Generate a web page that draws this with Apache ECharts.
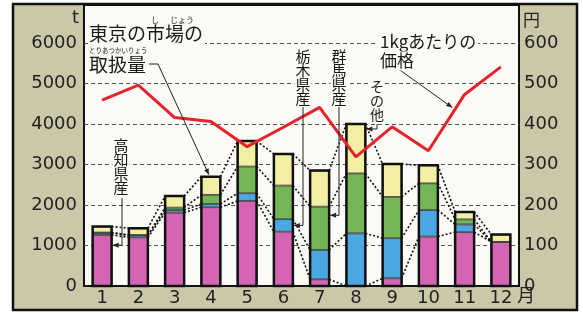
<!DOCTYPE html>
<html>
<head>
<meta charset="utf-8">
<script src="https://cdn.jsdelivr.net/npm/echarts@6/dist/echarts.min.js"></script>
<style>
html, body { margin: 0; padding: 0; background: #fff; }
#main { width: 583px; height: 314px; }
</style>
</head>
<body>
<div id="main"></div>
<script>
var months = ['1', '2', '3', '4', '5', '6', '7', '8', '9', '10', '11', '12'];
// 東京の市場の取扱量 (t)
var kochi = [1260, 1200, 1810, 1945, 2100, 1340, 165, 0, 190, 1220, 1330, 1090];
var tochigi = [50, 50, 65, 80, 190, 310, 725, 1300, 990, 655, 190, 0];
var gunma = [10, 10, 60, 225, 660, 830, 1070, 1480, 1020, 660, 125, 0];
var other = [150, 165, 285, 450, 630, 780, 890, 1220, 810, 445, 185, 180];
// 1kgあたりの価格 (円)
var price = [459, 496, 416, 406, 344, 392, 441, 319, 393, 334, 473, 541];
var leftTicks = [0, 1000, 2000, 3000, 4000, 5000, 6000];
var rightTicks = [0, 100, 200, 300, 400, 500, 600];

var plotBg = '#fbfaf6';
var jp = '"Noto Sans CJK JP", sans-serif';
var num = '"DejaVu Sans", sans-serif';
var barW = 19;

// cumulative boundaries for each month
var cum = months.map(function (m, i) {
    var a = kochi[i], b = a + tochigi[i], c = b + gunma[i], d = c + other[i];
    return [a, b, c, d];
});

var chart = echarts.init(document.getElementById('main'));

var seg = function (name, data, color) {
    return {
        name: name, type: 'bar', stack: 'a', data: data, barWidth: barW,
        itemStyle: { color: color, borderColor: '#333', borderWidth: 0.8 },
        z: 3
    };
};

chart.setOption({
    animation: false,
    backgroundColor: '#ffffff',
    grid: { left: 84, right: 64, top: 43, bottom: 28 },
    xAxis: {
        type: 'category', data: months,
        axisLine: { lineStyle: { color: '#111', width: 2 } },
        axisTick: { show: false },
        axisLabel: { color: '#222', fontFamily: num, fontSize: 18, margin: 3 }
    },
    yAxis: [{
        type: 'value', min: 0, max: 6000, interval: 1000,
        axisLine: { show: false }, axisTick: { show: false },
        axisLabel: { color: '#222', fontFamily: num, fontSize: 18, margin: 7,
            formatter: function (v) { return leftTicks.indexOf(v) >= 0 ? String(v) : ''; } },
        splitLine: { lineStyle: { color: '#555', width: 1, type: [4, 3] } }
    }, {
        type: 'value', min: 0, max: 600, interval: 100,
        axisLine: { show: false }, axisTick: { show: false },
        axisLabel: { color: '#222', fontFamily: num, fontSize: 18, margin: 5,
            formatter: function (v) { return rightTicks.indexOf(v) >= 0 ? String(v) : ''; } },
        splitLine: { show: false }
    }],
    series: [
        seg('高知県産', kochi, '#d564b4'),
        seg('栃木県産', tochigi, '#4aa9e2'),
        seg('群馬県産', gunma, '#74b556'),
        seg('その他', other, '#f2eea2'),
        {
            // dotted connectors between the segments of neighbouring bars
            type: 'custom', z: 4, silent: true,
            data: months.slice(0, -1).map(function (m, i) { return [i, cum[i][3]]; }),
            encode: { x: 0, y: 1 },
            renderItem: function (params, api) {
                var i = api.value(0);
                var kids = [];
                for (var k = 0; k < 4; k++) {
                    var p = api.coord([i, cum[i][k]]);
                    var q = api.coord([i + 1, cum[i + 1][k]]);
                    kids.push({
                        type: 'line',
                        shape: { x1: p[0] + barW / 2, y1: p[1], x2: q[0] - barW / 2, y2: q[1] },
                        style: { stroke: '#111', lineWidth: 1.6, lineDash: [2, 2] }
                    });
                }
                return { type: 'group', children: kids };
            }
        },
        {
            // thick outline around each whole bar
            type: 'custom', z: 5, silent: true,
            data: months.map(function (m, i) { return [i, cum[i][3]]; }),
            encode: { x: 0, y: 1 },
            renderItem: function (params, api) {
                var top = api.coord([api.value(0), api.value(1)]);
                var bot = api.coord([api.value(0), 0]);
                return {
                    type: 'rect',
                    shape: { x: top[0] - barW / 2, y: top[1], width: barW, height: bot[1] - top[1] },
                    style: { fill: 'none', stroke: '#111', lineWidth: 2.5 }
                };
            }
        },
        {
            name: '1kgあたりの価格', type: 'line', yAxisIndex: 1, data: price,
            symbol: 'none', z: 10,
            lineStyle: { color: '#e3242b', width: 3 }
        }
    ]
});

function px(i, v) { return chart.convertToPixel({ xAxisIndex: 0, yAxisIndex: 0 }, [i, v]); }
function pxR(i, v) { return chart.convertToPixel({ xAxisIndex: 0, yAxisIndex: 1 }, [i, v]); }

function arrow(pts, head) {
    var out = [{
        type: 'polyline', z: 40, silent: true,
        shape: { points: pts },
        style: { stroke: '#222', lineWidth: 1, fill: 'none' }
    }];
    if (head) {
        var a = pts[pts.length - 2], b = pts[pts.length - 1];
        var ang = Math.atan2(b[1] - a[1], b[0] - a[0]);
        var L = 6, W = 2.5;
        var bx = b[0] - L * Math.cos(ang), by = b[1] - L * Math.sin(ang);
        out.push({
            type: 'polygon', z: 40, silent: true,
            shape: { points: [b, [bx - W * Math.sin(ang), by + W * Math.cos(ang)], [bx + W * Math.sin(ang), by - W * Math.cos(ang)]] },
            style: { fill: '#222' }
        });
    }
    return out;
}

function label(text, x, y, size, extra) {
    var st = {
        text: text, x: x, y: y, fill: '#1a1a1a', font: size + 'px ' + jp,
        verticalAlign: 'middle', align: 'left',
        backgroundColor: plotBg, padding: [1, 2, 1, 2]
    };
    for (var k in extra) st[k] = extra[k];
    return { type: 'text', z: 50, silent: true, style: st };
}

function vlabel(text, x, y, size) {
    return label(text.split('').join('\n'), x, y, size,
        { align: 'center', verticalAlign: 'top', lineHeight: 14, padding: [2, 1, 2, 1] });
}

var g = [];
g.push({ type: 'rect', z: -100, silent: true,
    shape: { x: 13, y: 4, width: 564, height: 306 },
    style: { fill: '#cbc8a9', stroke: '#111', lineWidth: 2.5 } });
g.push({ type: 'rect', z: -90, silent: true,
    shape: { x: 84, y: 5, width: 435, height: 281 },
    style: { fill: plotBg, stroke: '#111', lineWidth: 2 } });

g.push({ type: 'text', z: 50, silent: true, style: { text: 't', x: 79, y: 18, align: 'right', verticalAlign: 'middle', font: '18px ' + num, fill: '#222' } });
g.push({ type: 'text', z: 50, silent: true, style: { text: '円', x: 523, y: 20, align: 'left', verticalAlign: 'middle', font: '17px ' + jp, fill: '#222' } });
g.push({ type: 'text', z: 50, silent: true, style: { text: '月', x: 517, y: 295, align: 'left', verticalAlign: 'middle', font: '18px ' + jp, fill: '#222' } });

// title
g.push(label('東京の市場の', 88, 34, 19, { padding: [1, 2, 5, 1] }));
g.push({ type: 'text', z: 51, silent: true, style: { text: 'し', x: 155, y: 20, align: 'center', verticalAlign: 'middle', font: '8px ' + jp, fill: '#1a1a1a' } });
g.push({ type: 'text', z: 51, silent: true, style: { text: 'じょう', x: 182, y: 20, align: 'center', verticalAlign: 'middle', font: '8px ' + jp, fill: '#1a1a1a' } });
g.push({ type: 'text', z: 51, silent: true, style: { text: 'とりあつかいりょう', x: 89, y: 51, align: 'left', verticalAlign: 'middle', font: '6.5px ' + jp, fill: '#1a1a1a' } });
g.push(label('取扱量', 88, 65, 19, { padding: [1, 2, 1, 1] }));

g.push(label('1kgあたりの', 378, 42, 17));
g.push(label('価格', 378, 61, 17));

// vertical labels
g.push(vlabel('高知県産', 121, 136, 15));
g.push(vlabel('栃木県産', 303, 47, 15));
g.push(vlabel('群馬県産', 339, 47, 15));
g.push(vlabel('その他', 377, 78, 14));

// leaders
var b4 = px(3, cum[3][3]);
g = g.concat(arrow([[149, 64], [158, 64], [b4[0] - 2, b4[1] - 2]], true));
var p9 = pxR(9, price[9]), p10 = pxR(10, price[10]);
var t = 0.66;
var pe = [p9[0] + (p10[0] - p9[0]) * t, p9[1] + (p10[1] - p9[1]) * t - 6];
g = g.concat(arrow([[397, 68], pe], true));

var k1 = px(0, kochi[0] * 0.8);
g = g.concat(arrow([[122, 198], [122, k1[1]], [k1[0] + barW / 2 + 1, k1[1]]], true));
var t6 = px(5, kochi[5] + tochigi[5] / 2);
g = g.concat(arrow([[303, 106], [303, t6[1]], [t6[0] + barW / 2 + 1, t6[1]]], true));
var g7 = px(6, cum[6][1] + gunma[6] * 0.8);
g = g.concat(arrow([[339, 106], [339, g7[1]], [g7[0] + barW / 2 + 1, g7[1]]], true));
var o8 = px(7, cum[7][2] + other[7] * 0.9);
g = g.concat(arrow([[377, 120], [377, o8[1]], [o8[0] + barW / 2 + 1, o8[1]]], true));

chart.setOption({ graphic: g });
</script>
</body>
</html>
